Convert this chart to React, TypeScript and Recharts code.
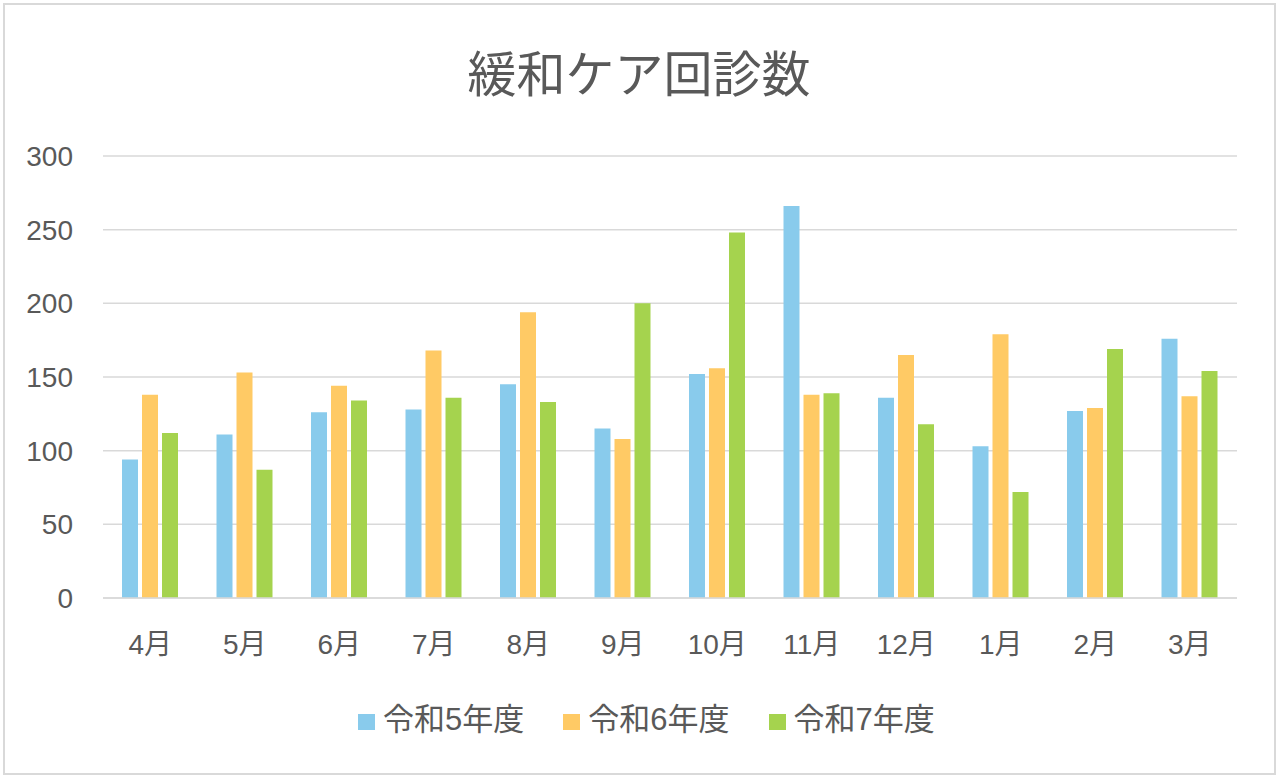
import { BarChart, Bar, XAxis, YAxis, CartesianGrid, Legend } from 'recharts';

const MONTHS = ['4月', '5月', '6月', '7月', '8月', '9月', '10月', '11月', '12月', '1月', '2月', '3月'];
const R5 = [94, 111, 126, 128, 145, 115, 152, 266, 136, 103, 127, 176];
const R6 = [138, 153, 144, 168, 194, 108, 156, 138, 165, 179, 129, 137];
const R7 = [112, 87, 134, 136, 133, 200, 248, 139, 118, 72, 169, 154];
const Y_TICKS = [0, 50, 100, 150, 200, 250, 300];

const SERIES = [
  { key: 'r5', name: '令和5年度', color: '#89CBEC' },
  { key: 'r6', name: '令和6年度', color: '#FFCA65' },
  { key: 'r7', name: '令和7年度', color: '#A5D34E' },
];

const TEXT = '#595959';
const GRID = '#d9d9d9';
const FONT = '"Liberation Sans", "Noto Sans CJK JP", sans-serif';

const data = MONTHS.map((m, i) => ({ month: m, r5: R5[i], r6: R6[i], r7: R7[i] }));

function renderLegend(props: { payload?: { value: string; color: string }[] }) {
  const items = props.payload || [];
  return (
    <div style={{ display: 'flex', alignItems: 'center', fontFamily: FONT, fontSize: 31, color: TEXT }}>
      {items.map((it, i) => (
        <div key={i} style={{ display: 'flex', alignItems: 'center', marginRight: 39, lineHeight: '34px' }}>
          <span style={{ display: 'inline-block', width: 17, height: 16, background: it.color, marginRight: 8, marginTop: 4 }} />
          <span>{it.value}</span>
        </div>
      ))}
    </div>
  );
}

export default function App() {
  return (
    <div style={{ position: 'relative', width: 1280, height: 780, background: '#fff', fontFamily: FONT }}>
      <style>{'body{margin:0}'}</style>
      {/* 外枠 */}
      <div
        style={{
          position: 'absolute', left: 3, top: 3, width: 1273, height: 772,
          border: `2px solid ${GRID}`, boxSizing: 'border-box',
        }}
      />
      <div
        style={{
          position: 'absolute', left: 0, top: 46, width: 1278, textAlign: 'center',
          fontFamily: '"Noto Sans CJK JP", sans-serif', fontSize: 49, lineHeight: '49px', color: TEXT,
        }}
      >
        緩和ケア回診数
      </div>
      <BarChart
        width={1280}
        height={780}
        data={data}
        margin={{ top: 156, right: 43, left: 0, bottom: 122 }}
        barSize={16}
        barGap={4}
        style={{ position: 'absolute', left: 0, top: 0 }}
      >
        <CartesianGrid vertical={false} stroke={GRID} strokeWidth={1.5} />
        <XAxis
          dataKey="month"
          interval={0}
          height={60}
          tickLine={false}
          tickSize={0}
          tickMargin={36}
          axisLine={{ stroke: GRID, strokeWidth: 1.5 }}
          tick={{ fill: TEXT, fontSize: 28, fontFamily: FONT }}
        />
        <YAxis
          width={103}
          domain={[0, 300]}
          ticks={Y_TICKS}
          axisLine={false}
          tickLine={false}
          tickSize={0}
          tickMargin={30}
          tick={{ fill: TEXT, fontSize: 28, fontFamily: FONT }}
        />
        <Legend
          verticalAlign="middle"
          align="center"
          content={renderLegend as any}
          wrapperStyle={{ top: 703, left: 358, width: 800 }}
        />
        {SERIES.map(s => (
          <Bar key={s.key} dataKey={s.key} name={s.name} fill={s.color} isAnimationActive={false} />
        ))}
      </BarChart>
    </div>
  );
}
